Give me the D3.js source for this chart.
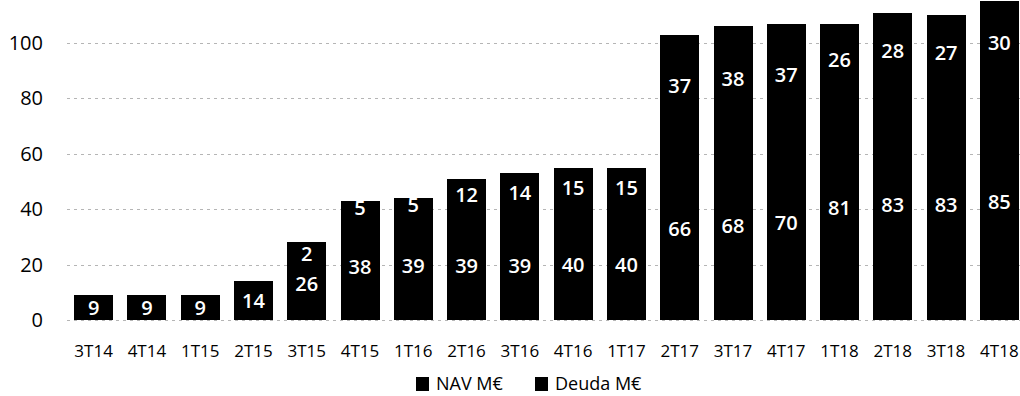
<!DOCTYPE html>
<html>
<head>
<meta charset="utf-8">
<script src="https://cdn.jsdelivr.net/npm/d3@7"></script>
<style>
  body { margin: 0; background: #fff; }
  svg { display: block; font-family: "Open Sans", sans-serif; }
</style>
</head>
<body>
<svg width="1020" height="396"></svg>
<script>
// Datos
const trimestres = ["3T14","4T14","1T15","2T15","3T15","4T15","1T16","2T16","3T16","4T16","1T17","2T17","3T17","4T17","1T18","2T18","3T18","4T18"]
const nav   = [9, 9, 9, 14, 26, 38, 39, 39, 39, 40, 40, 66, 68, 70, 81, 83, 83, 85]
const deuda = [0, 0, 0, 0, 2, 5, 5, 12, 14, 15, 15, 37, 38, 37, 26, 28, 27, 30]
const yTicks = [0, 20, 40, 60, 80, 100]
const series = ["NAV M€", "Deuda M€"]

const svgWidth = 1020
const baseY = 320

// Escalas
const xScale = d3.scaleBand(trimestres, [67, 1026]).paddingInner(0.27).paddingOuter(0.135)
const yScale = d3.scaleLinear([0, 100], [baseY, 43])

const svg = d3.select("svg")

// Rejilla
svg.append("g")
  .selectAll("line")
  .data(yTicks)
  .join("line")
    .attr("x1", 67)
    .attr("x2", svgWidth)
    .attr("y1", d => Math.round(yScale(d)) + 0.5)
    .attr("y2", d => Math.round(yScale(d)) + 0.5)
    .attr("stroke", "#b5b5b5")
    .attr("stroke-width", 1)
    .attr("stroke-dasharray", "3,4")

// Etiquetas eje Y
svg.append("g")
  .selectAll("text")
  .data(yTicks)
  .join("text")
    .attr("x", 43)
    .attr("y", d => yScale(d) + 7)
    .attr("text-anchor", "end")
    .attr("font-size", "20px")
    .attr("fill", "#000")
    .text(d => d)

// Barras apiladas
const rows = trimestres.map((t, i) => ({t, nav: nav[i], deuda: deuda[i]}))
const stack = d3.stack().keys(["nav", "deuda"])(rows)

svg.append("g")
  .attr("shape-rendering", "crispEdges")
  .selectAll("g")
  .data(stack)
  .join("g")
  .selectAll("rect")
  .data(d => d)
  .join("rect")
    .attr("x", d => Math.round(xScale(d.data.t)))
    .attr("width", Math.round(xScale.bandwidth()))
    .attr("y", d => Math.round(yScale(d[1])))
    .attr("height", d => Math.round(yScale(d[0])) - Math.round(yScale(d[1])) + (d[0] > 0 ? 1 : 0))
    .attr("fill", "#000")

// Etiquetas de valores
const labels = []
rows.forEach(r => {
  labels.push({t: r.t, v: r.nav, y: yScale(r.nav / 2)})
  if (r.deuda > 0) {
    let y = yScale(r.nav + r.deuda / 2)
    if (r.deuda < 4) y = yScale(r.nav + r.deuda) + 12
    labels.push({t: r.t, v: r.deuda, y})
  }
})

svg.append("g")
  .selectAll("text")
  .data(labels)
  .join("text")
    .attr("x", d => xScale(d.t) + xScale.bandwidth() / 2)
    .attr("y", d => d.y + 7)
    .attr("text-anchor", "middle")
    .attr("font-size", "20px")
    .attr("font-weight", "600")
    .attr("fill", "#fff")
    .text(d => d.v)

// Etiquetas eje X
svg.append("g")
  .selectAll("text")
  .data(trimestres)
  .join("text")
    .attr("x", d => xScale(d) + xScale.bandwidth() / 2)
    .attr("y", 357)
    .attr("text-anchor", "middle")
    .attr("font-size", "17px")
    .attr("fill", "#000")
    .text(d => d)

// Leyenda
const legend = svg.append("g")
  .selectAll("g")
  .data(series)
  .join("g")
    .attr("transform", (d, i) => `translate(${i === 0 ? 416 : 535}, 377)`)

legend.append("rect")
  .attr("width", 13)
  .attr("height", 14)
  .attr("fill", "#000")

legend.append("text")
  .attr("x", 20)
  .attr("y", 13)
  .attr("font-size", "18px")
  .attr("fill", "#000")
  .text(d => d)
</script>
</body>
</html>
